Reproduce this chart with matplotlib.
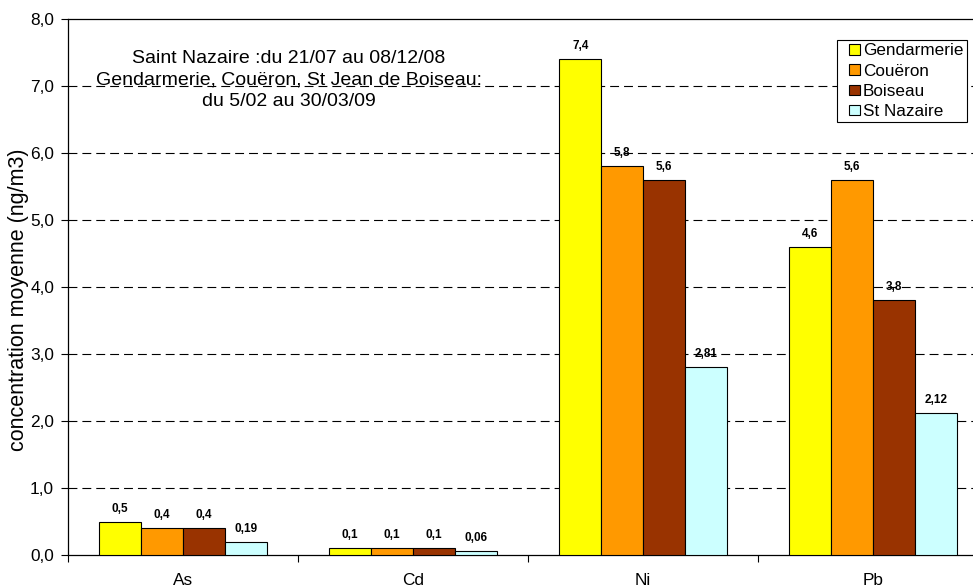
import matplotlib
matplotlib.use("Agg")
import matplotlib.pyplot as plt
from matplotlib.container import BarContainer
from matplotlib.legend_handler import HandlerPatch
from matplotlib.patches import Rectangle
import numpy as np

plt.rcParams['font.family'] = ['Liberation Sans', 'DejaVu Sans']

categories = ["As", "Cd", "Ni", "Pb"]
series_names = ["Gendarmerie", "Couëron", "Boiseau", "St Nazaire"]
gendarmerie = [0.5, 0.1, 7.4, 4.6]
coueron = [0.4, 0.1, 5.8, 5.6]
boiseau = [0.4, 0.1, 5.6, 3.8]
st_nazaire = [0.19, 0.06, 2.81, 2.12]
label_texts = [
    ["0,5", "0,1", "7,4", "4,6"],
    ["0,4", "0,1", "5,8", "5,6"],
    ["0,4", "0,1", "5,6", "3,8"],
    ["0,19", "0,06", "2,81", "2,12"],
]
y_ticks = [0, 1, 2, 3, 4, 5, 6, 7, 8]
y_tick_labels = ["0,0", "1,0", "2,0", "3,0", "4,0", "5,0", "6,0", "7,0", "8,0"]
colors = ["#FFFF00", "#FF9900", "#993300", "#CCFFFF"]

W, H = 973, 587
fig = plt.figure(figsize=(W / 100, H / 100), dpi=100)
ax = fig.add_axes([68 / W, (H - 555) / H, 920 / W, 536 / H])

all_series = [gendarmerie, coueron, boiseau, st_nazaire]
n = len(all_series)
bw = 1 / 5.5
x = np.arange(len(categories)) + 0.5
for i, (vals, name, col) in enumerate(zip(all_series, series_names, colors)):
    pos = x + (i - (n - 1) / 2) * bw
    bars = ax.bar(pos, vals, width=bw, color=col, edgecolor="black",
                  linewidth=0.8, label=name, zorder=3)
    for b, txt in zip(bars, label_texts[i]):
        ax.annotate(txt, (b.get_x() + b.get_width() / 2, b.get_height()),
                    xytext=(0, 9.3), textcoords="offset points",
                    ha="center", va="center", fontsize=8.5, fontweight="bold",
                    zorder=4)

ax.set_xlim(0, 4)
ax.set_ylim(0, 8)
ax.set_yticks(y_ticks)
ax.set_yticklabels(y_tick_labels, fontsize=12.4)
ax.set_xticks(x)
ax.set_xticklabels(categories, fontsize=12.4)
ax.set_xticks([0, 1, 2, 3, 4], minor=True)
ax.tick_params(axis="x", which="major", length=0, pad=13)
ax.tick_params(axis="x", which="minor", length=5, width=0.8, direction="out")
ax.tick_params(axis="y", length=5, width=0.8, direction="out", pad=5)

for yv in y_ticks[1:-1]:
    ax.axhline(yv, color="black", linewidth=0.8, linestyle=(0, (8, 4.5)), zorder=1)

for side in ["left", "bottom", "top"]:
    ax.spines[side].set_linewidth(0.9)
ax.spines["right"].set_visible(False)

fig.text(19 / W, (H - 300) / H, "concentration moyenne (ng/m3)",
         rotation=90, ha="center", va="center", fontsize=15.5)

ax.text(289 / W, (H - 80) / H,
        "Saint Nazaire :du 21/07 au 08/12/08\n"
        "Gendarmerie, Couëron, St Jean de Boiseau:\n"
        "du 5/02 au 30/03/09",
        transform=fig.transFigure, ha="center", va="center",
        fontsize=14, linespacing=1.34, zorder=5)


def small_square(legend, orig_handle, xdescent, ydescent, width, height, fontsize):
    # square legend key pushed to the right end of its slot
    s = 0.6 * fontsize
    return Rectangle((-xdescent + width - s, -ydescent + (height - s) / 2), s, s)


def copy_bar_style(handle, orig):
    handle.update_from(orig.patches[0])


leg = ax.legend(loc="upper right", bbox_to_anchor=(967 / W, (H - 40) / H),
                bbox_transform=fig.transFigure, fontsize=12.3, frameon=True,
                fancybox=False, edgecolor="black", framealpha=1,
                handlelength=1.1, handleheight=0.7, handletextpad=0.2,
                labelspacing=0.3, borderpad=0.2, borderaxespad=0,
                handler_map={BarContainer: HandlerPatch(patch_func=small_square,
                                                        update_func=copy_bar_style)})
leg.get_frame().set_linewidth(0.8)
leg.set_zorder(6)

fig.savefig("out.png", dpi=100)
